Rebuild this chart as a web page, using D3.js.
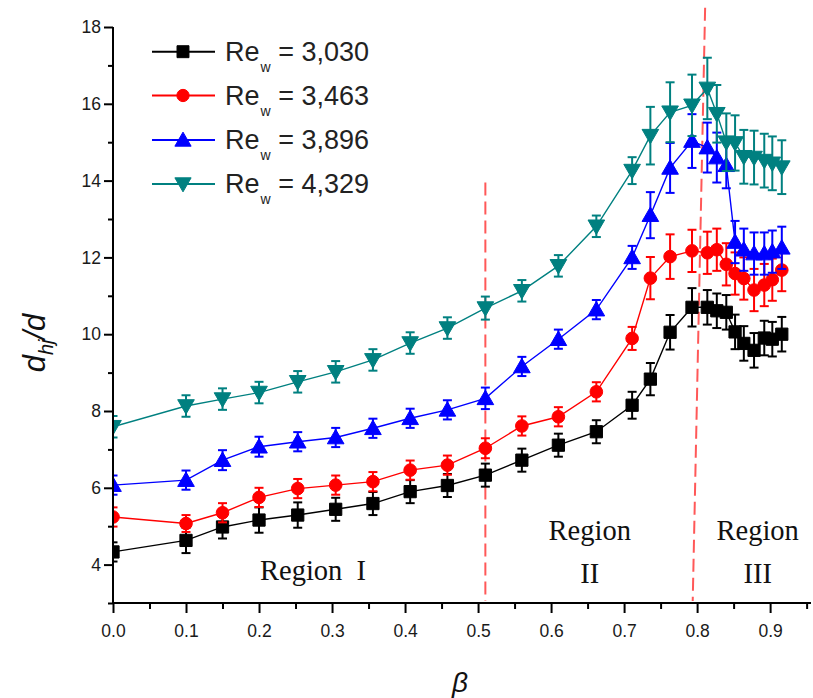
<!DOCTYPE html>
<html>
<head>
<meta charset="utf-8">
<script src="https://cdn.jsdelivr.net/npm/d3@7"></script>
<style>
  html, body { margin: 0; padding: 0; background: #fff; }
  svg { display: block; }
</style>
</head>
<body>
<svg id="chart" width="813" height="698"></svg>
<script>
// Jet ratio positions (beta) shared by all four series
const beta = [0, 0.1, 0.15, 0.2, 0.253, 0.305, 0.356, 0.407, 0.458, 0.51, 0.56, 0.61, 0.662,
  0.711, 0.736, 0.763, 0.793, 0.814, 0.827, 0.840, 0.852, 0.864, 0.878, 0.892, 0.903, 0.916];

// d_hj/d for each wall Reynolds number, with error bar half-widths
const re3030 = [4.33, 4.63, 4.98, 5.16, 5.29, 5.44, 5.59, 5.90, 6.06, 6.33, 6.72, 7.11, 7.46,
  8.15, 8.83, 10.05, 10.70, 10.70, 10.61, 10.57, 10.06, 9.76, 9.58, 9.90, 9.87, 10.00];
const err3030 = [0.25, 0.33, 0.30, 0.33, 0.33, 0.30, 0.30, 0.30, 0.30, 0.30, 0.30, 0.30, 0.30,
  0.35, 0.42, 0.45, 0.50, 0.45, 0.45, 0.45, 0.45, 0.45, 0.45, 0.45, 0.45, 0.45];

const re3463 = [5.24, 5.07, 5.35, 5.75, 5.98, 6.07, 6.16, 6.46, 6.59, 7.03, 7.61, 7.85, 8.50,
  9.89, 11.46, 12.02, 12.17, 12.12, 12.20, 11.82, 11.58, 11.45, 11.15, 11.28, 11.42, 11.67];
const err3463 = [0.25, 0.22, 0.25, 0.25, 0.25, 0.25, 0.25, 0.25, 0.25, 0.26, 0.25, 0.25, 0.25,
  0.30, 0.55, 0.58, 0.55, 0.55, 0.55, 0.55, 0.55, 0.55, 0.55, 0.55, 0.55, 0.55];

const re3896 = [6.07, 6.20, 6.72, 7.07, 7.20, 7.31, 7.55, 7.81, 8.03, 8.33, 9.16, 9.87, 10.64,
  12.00, 13.10, 14.33, 15.03, 14.86, 14.60, 14.40, 12.40, 12.20, 12.10, 12.10, 12.15, 12.25];
const err3896 = [0.25, 0.25, 0.26, 0.26, 0.25, 0.25, 0.25, 0.25, 0.25, 0.28, 0.25, 0.25, 0.25,
  0.30, 0.60, 0.65, 0.70, 0.65, 0.65, 0.60, 0.55, 0.55, 0.55, 0.55, 0.55, 0.55];

const re4329 = [7.59, 8.13, 8.31, 8.48, 8.76, 9.02, 9.33, 9.77, 10.16, 10.68, 11.13, 11.78, 12.81,
  14.26, 15.17, 15.78, 15.96, 16.40, 15.74, 15.00, 14.98, 14.62, 14.60, 14.52, 14.45, 14.35];
const err4329 = [0.28, 0.28, 0.28, 0.28, 0.28, 0.28, 0.28, 0.28, 0.28, 0.30, 0.28, 0.28, 0.28,
  0.35, 0.75, 0.78, 0.80, 0.80, 0.75, 0.75, 0.72, 0.70, 0.70, 0.70, 0.70, 0.70];

const seriesNames = ["3,030", "3,463", "3,896", "4,329"];
const seriesColors = ["#000000", "#ff0000", "#0000ff", "#008080"];
const seriesSymbols = ["square", "circle", "triangle", "triangleDown"];

// Axis ticks
const xMajor = [0, 0.1, 0.2, 0.3, 0.4, 0.5, 0.6, 0.7, 0.8, 0.9];
const xMinor = [0.05, 0.15, 0.25, 0.35, 0.45, 0.55, 0.65, 0.75, 0.85, 0.95];
const yMajor = [4, 6, 8, 10, 12, 14, 16, 18];
const yMinor = [3, 5, 7, 9, 11, 13, 15, 17];

// Flow-region boundaries (beta, d_hj/d endpoints)
const boundary1 = [[0.51, 13.95], [0.51, 3.05]];
const boundary2 = [[0.811, 18.5], [0.794, 3.05]];

const regionLabels = [
  { lines: ["Region  I"], b: 0.274, v: 3.6 },
  { lines: ["Region", "II"], b: 0.653, v: 4.65 },
  { lines: ["Region", "III"], b: 0.883, v: 4.65 }
];

const values = [re3030, re3463, re3896, re4329];
const errors = [err3030, err3463, err3896, err4329];

const svg = d3.select("#chart");
const x = d3.scaleLinear().domain([0, 0.956]).range([113, 811]);
const y = d3.scaleLinear().domain([3, 18]).range([603, 27]);

const font = '"Liberation Sans", Arial, sans-serif';
const serif = '"Liberation Serif", "Times New Roman", serif';

// Plot clip: marks are cut at the left axis
svg.append("defs").append("clipPath").attr("id", "plotClip")
  .append("rect").attr("x", x(0)).attr("y", 0).attr("width", 813 - x(0)).attr("height", y(3));

const plot = svg.append("g").attr("clip-path", "url(#plotClip)");

// Region boundaries
const bLine = d3.line().x(d => x(d[0])).y(d => y(d[1]));
[boundary1, boundary2].forEach(b => {
  plot.append("path").attr("d", bLine(b))
    .attr("fill", "none").attr("stroke", "#ff3b3b").attr("stroke-width", 2)
    .attr("stroke-dasharray", "13,6").attr("opacity", 0.85);
});

// Region labels
regionLabels.forEach(r => {
  const t = svg.append("text")
    .attr("x", x(r.b)).attr("y", y(r.v))
    .attr("text-anchor", "middle")
    .attr("font-family", serif).attr("font-size", 28.5).attr("fill", "#111");
  r.lines.forEach((ln, i) => {
    t.append("tspan").attr("x", x(r.b)).attr("dy", i === 0 ? 0 : 43)
      .attr("xml:space", "preserve").style("white-space", "pre").text(ln);
  });
});

const symbolType = {
  square: d3.symbolSquare,
  circle: d3.symbolCircle,
  triangle: d3.symbolTriangle,
  triangleDown: d3.symbolTriangle
};
const symbolSize = { square: 150, circle: 125, triangle: 120, triangleDown: 120 };

function drawSymbol(g, kind, cx, cy, color, scale) {
  const s = d3.symbol().type(symbolType[kind]).size(symbolSize[kind] * (scale || 1));
  const rot = kind === "triangleDown" ? 180 : 0;
  const dy = kind === "triangle" ? 1.5 : (kind === "triangleDown" ? -1.5 : 0);
  g.append("path").attr("d", s())
    .attr("transform", `translate(${cx},${cy + dy}) rotate(${rot})`)
    .attr("fill", color).attr("stroke", color).attr("stroke-width", 1);
}

const line = d3.line().x(d => x(d.b)).y(d => y(d.v));

values.forEach((vals, si) => {
  const color = seriesColors[si];
  const data = beta.map((b, i) => ({ b, v: vals[i], e: errors[si][i] }));
  const g = plot.append("g");

  g.append("path").datum(data).attr("d", line)
    .attr("fill", "none").attr("stroke", color).attr("stroke-width", 1.4);

  // error bars
  const cap = 4.5;
  data.forEach(d => {
    const cx = x(d.b), y1 = y(d.v + d.e), y2 = y(d.v - d.e);
    g.append("line").attr("x1", cx).attr("x2", cx).attr("y1", y1).attr("y2", y2)
      .attr("stroke", color).attr("stroke-width", 2);
    [y1, y2].forEach(yy => g.append("line")
      .attr("x1", cx - cap).attr("x2", cx + cap).attr("y1", yy).attr("y2", yy)
      .attr("stroke", color).attr("stroke-width", 2));
  });

  data.forEach(d => drawSymbol(g, seriesSymbols[si], x(d.b), y(d.v), color));
});

// Axes
const axisColor = "#000";
svg.append("g").attr("transform", `translate(0,${y(3)})`)
  .call(d3.axisBottom(x).tickValues(xMajor).tickSize(10).tickPadding(12).tickFormat(d3.format(".1f")));
svg.append("g").attr("transform", `translate(0,${y(3)})`)
  .call(d3.axisBottom(x).tickValues(xMinor).tickSize(6).tickFormat(""));
svg.append("g").attr("transform", `translate(${x(0)},0)`)
  .call(d3.axisLeft(y).tickValues(yMajor).tickSize(9).tickPadding(3).tickFormat(d3.format("d")));
svg.append("g").attr("transform", `translate(${x(0)},0)`)
  .call(d3.axisLeft(y).tickValues(yMinor).tickSize(5).tickFormat(""));

svg.selectAll(".tick line").attr("stroke", axisColor).attr("stroke-width", 2);
svg.selectAll(".tick text")
  .style("font-family", font).style("font-size", "17.5px").style("fill", "#1a1a1a");
// axis lines: x from the origin to the right edge, y from 3 to 18
svg.selectAll(".domain").remove();
svg.append("line").attr("x1", x(0)).attr("x2", 811).attr("y1", y(3)).attr("y2", y(3))
  .attr("stroke", axisColor).attr("stroke-width", 2);
svg.append("line").attr("x1", x(0)).attr("x2", x(0)).attr("y1", y(3)).attr("y2", y(18))
  .attr("stroke", axisColor).attr("stroke-width", 2);

// Axis titles
svg.append("text").attr("x", 460).attr("y", 692).attr("text-anchor", "middle")
  .attr("font-family", font).attr("font-style", "italic").attr("font-size", 28).attr("fill", "#111")
  .text("β");

const yt = svg.append("text")
  .attr("transform", "translate(45,343) rotate(-90)")
  .attr("text-anchor", "middle")
  .attr("font-family", font).attr("font-style", "italic").attr("font-size", 31).attr("fill", "#111");
yt.append("tspan").text("d");
yt.append("tspan").attr("font-size", 20).attr("dy", 8).text("hj");
yt.append("tspan").attr("dy", -8).text("/d");

// Legend
const legend = svg.append("g");
const legRows = [51.7, 95.5, 140, 184];
seriesNames.forEach((name, i) => {
  const ry = legRows[i];
  legend.append("line").attr("x1", 152).attr("x2", 215).attr("y1", ry).attr("y2", ry)
    .attr("stroke", seriesColors[i]).attr("stroke-width", 2);
  drawSymbol(legend, seriesSymbols[i], 183, ry, seriesColors[i], 0.95);
  const t = legend.append("text").attr("x", 225).attr("y", ry + 9)
    .attr("font-family", font).attr("font-size", 27).attr("fill", "#222");
  t.append("tspan").text("Re");
  t.append("tspan").attr("font-size", 14).attr("dy", 11).attr("dx", 1).text("w");
  t.append("tspan").attr("dy", -11).attr("xml:space", "preserve").style("white-space", "pre")
    .text(" = " + name);
});
</script>
</body>
</html>
